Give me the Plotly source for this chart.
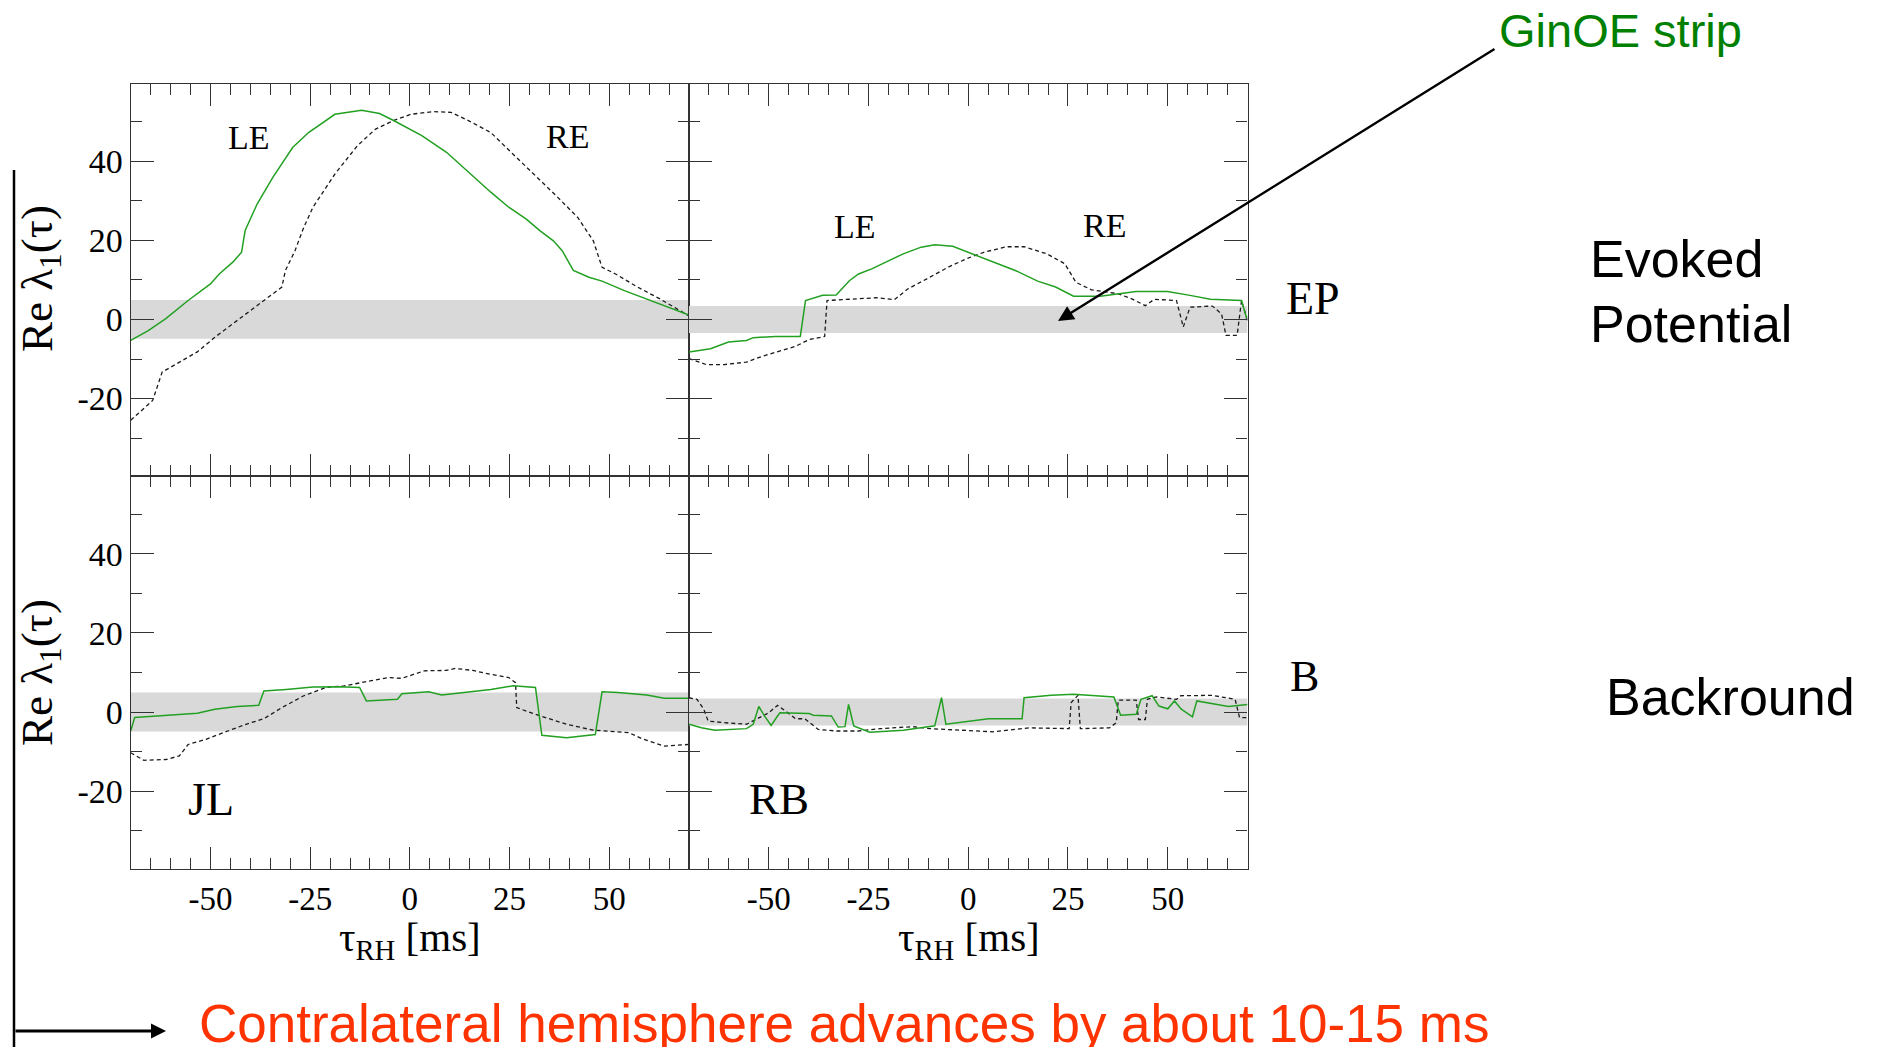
import plotly.graph_objects as go

W, H = 1879, 1047

# ---------------- data (tau_RH in ms, Re lambda_1) ----------------
# Evoked potential, subject JL (top-left)
tl_green_x = [-70, -65.6, -61.2, -55.6, -50, -47.8, -44.4, -42.2, -41.3, -38.3, -34.4, -29.4, -25.4, -18.8,
              -12.1, -7.6, -4.2, 3.0, 9.2, 14.7, 20.3, 24.8, 29.2, 32.6, 36.0, 38.2, 41.0, 44.9, 48.2,
              53.8, 59.4, 65.0, 70]
tl_green_y = [-5.3, -2.8, 0.2, 4.8, 9.0, 11.5, 14.5, 17.0, 22.5, 29.2, 35.9, 43.5, 47.3, 51.9,
              52.9, 52.1, 50.4, 46.5, 42.3, 37.2, 32.2, 28.4, 25.4, 22.5, 19.9, 17.4, 12.4, 10.7, 9.7,
              7.3, 5.2, 3.1, 1.1]
tl_black_x = [-70, -64.5, -62.1, -57.8, -53.3, -48.9, -44.4, -40.0, -35.5, -32.1, -31.2, -28.8, -26.6, -24.3,
              -21.0, -18.8, -13.2, -8.7, -4.2, 0.2, 5.8, 10.3, 14.7, 20.3, 25.9, 31.5, 37.1, 42.1, 46.0,
              48.2, 51.6, 57.1, 62.7, 70]
tl_black_y = [-25.5, -20.5, -13.3, -10.8, -8.2, -4.5, -1.1, 2.3, 5.6, 8.2, 12.4, 17.4, 23.3, 28.4,
              33.4, 36.8, 43.9, 48.1, 50.3, 51.9, 52.6, 52.4, 50.3, 47.3, 41.8, 36.4, 30.9, 25.8, 19.9,
              13.2, 11.5, 8.2, 5.2, 0.9]

# Evoked potential, subject RB (top-right)
tr_green_x = [-70, -64.6, -60.1, -55.6, -53.9, -48.3, -42.1, -40.8, -36.5, -33.1, -29.8, -27.5, -24.2, -20.8,
              -16.3, -11.8, -8.4, -3.9, 0.6, 6.2, 11.8, 17.4, 21.9, 26.4, 33.1, 42.1, 49.9, 55.6, 60.7,
              68.5, 69.7, 70]
tr_green_y = [-8.2, -7.4, -5.7, -5.3, -4.6, -4.3, -4.3, 4.8, 6.1, 6.2, 9.8, 11.5, 12.8, 14.5,
              16.6, 18.3, 18.9, 18.5, 16.8, 14.5, 12.4, 9.7, 8.2, 5.9, 5.9, 7.1, 7.1, 6.1, 5.1,
              4.8, 0.6, 0.8]
tr_black_x = [-70, -65.7, -61.2, -55.6, -52.2, -47.8, -43.3, -39.9, -36.0, -35.4, -29.8, -23.0, -18.5, -15.2,
              -9.6, -5.1, -0.6, 3.9, 9.6, 14.0, 19.7, 24.2, 27.0, 30.9, 37.6, 41.0, 44.4, 46.6, 52.2,
              53.9, 55.6, 61.2, 63.5, 64.6, 67.4, 68.5, 70]
tr_black_y = [-9.9, -11.4, -11.4, -10.8, -9.5, -8.2, -6.8, -5.1, -4.3, 4.8, 5.2, 5.5, 5.0, 7.7,
              10.7, 13.2, 15.3, 17.0, 18.4, 18.4, 16.6, 14.1, 9.4, 7.5, 6.5, 5.2, 3.5, 5.1, 4.8,
              -1.9, 3.1, 3.4, 1.4, -4.0, -4.0, 4.8, -0.3]

# Background, subject JL (bottom-left)
bl_green_x = [-70, -69.0, -63.4, -57.8, -53.3, -48.9, -43.3, -37.9, -36.6, -31.0, -24.3, -17.6, -12.6, -10.9,
              -7.6, -3.1, -2.0, 4.7, 8.0, 14.7, 20.3, 25.9, 31.5, 33.1, 39.3, 46.5, 48.2, 52.1, 59.4,
              63.8, 70]
bl_green_y = [-4.8, -1.4, -1.0, -0.6, -0.3, 0.7, 1.4, 1.7, 5.3, 5.7, 6.3, 6.4, 6.2, 2.8,
              3.0, 3.2, 4.6, 5.1, 4.3, 5.1, 5.7, 6.6, 6.2, -5.9, -6.5, -5.7, 5.1, 4.9, 4.3,
              3.5, 3.5]
bl_black_x = [-70, -66.7, -61.2, -57.8, -55.6, -51.1, -46.7, -41.1, -36.6, -32.1, -26.6, -21.0, -16.5, -10.9,
              -5.4, -2.0, 3.6, 9.2, 11.4, 15.8, 20.3, 24.8, 26.5, 26.8, 31.5, 39.3, 46.0, 54.9, 58.3,
              63.8, 70]
bl_black_y = [-10.3, -12.2, -12.0, -11.1, -8.2, -6.9, -5.2, -3.1, -1.7, 1.1, 4.1, 6.2, 6.6, 7.7,
              8.7, 8.5, 10.4, 10.5, 11.0, 10.5, 9.5, 8.7, 7.4, 1.1, -0.6, -3.1, -4.6, -5.2, -6.8,
              -8.6, -8.2]

# Background, subject RB (bottom-right)
br_green_x = [-70, -66.9, -63.5, -55.6, -53.9, -52.5, -51.1, -49.4, -47.8, -47.2, -39.9, -38.8, -34.3, -32.6,
              -30.9, -30.0, -28.7, -24.7, -16.3, -8.4, -6.7, -5.6, 5.1, 13.5, 14.0, 20.8, 26.4, 36.5,
              38.2, 42.1, 43.3, 46.1, 47.8, 50.0, 51.7, 53.4, 56.2, 57.3, 62.4, 65.2, 70]
br_green_y = [-3.1, -4.0, -4.6, -4.2, -3.1, 1.4, -1.0, -3.4, -1.0, -0.2, -0.4, -0.8, -1.0, -3.8,
              -3.7, 1.9, -3.5, -5.1, -4.6, -3.5, 3.6, -3.1, -1.7, -1.7, 3.6, 4.2, 4.5, 3.8,
              -0.8, -0.6, 3.2, 4.1, 1.5, 0.8, 2.8, 0.7, -1.2, 2.8, 1.9, 1.4, 1.9]
br_black_x = [-70, -68.0, -66.3, -65.2, -61.2, -55.6, -50.0, -47.8, -45.5, -43.3, -41.0, -37.6, -33.1, -27.5,
              -21.9, -14.0, -9.6, -2.8, 6.2, 15.2, 25.3, 25.8, 27.5, 28.1, 35.4, 37.1, 37.6, 42.1,
              42.7, 44.4, 44.9, 47.2, 52.2, 53.3, 61.2, 66.9, 68.0, 70]
br_black_y = [3.6, 3.2, 0.7, -2.3, -2.7, -3.1, -0.2, 1.7, 0.0, -1.7, -1.7, -4.4, -4.8, -4.8,
              -4.2, -3.7, -4.2, -4.6, -5.0, -4.0, -4.2, 2.4, 4.2, -4.2, -4.0, -2.7, 3.0, 3.0,
              -1.9, -1.9, 3.2, 3.8, 3.2, 4.1, 4.2, 3.2, -1.4, -1.4]

# GinOE strip half-widths (left column, right column)
strip_half_left = 4.9
strip_half_right = 3.4

x_range = [-70, 70]
y_range = [-39.6, 59.6]
x_tickvals = [-50, -25, 0, 25, 50]
x_ticktext = ["-50", "-25", "0", "25", "50"]
y_tickvals = [-20, 0, 20, 40]
y_ticktext = ["-20", "0", "20", "40"]

# ---------------- styling ----------------
GREEN = "#22a022"
DASH_COL = "#1a1a1a"
AX_COL = "#333333"
BAND = "#d9d9d9"
SERIF = "Liberation Serif"
SANS = "Liberation Sans"


def px(x):
    return x / W


def py(y):
    return 1 - y / H


fig = go.Figure()

panels = [
    ("x", "y", tl_green_x, tl_green_y, tl_black_x, tl_black_y),
    ("x2", "y2", tr_green_x, tr_green_y, tr_black_x, tr_black_y),
    ("x3", "y3", bl_green_x, bl_green_y, bl_black_x, bl_black_y),
    ("x4", "y4", br_green_x, br_green_y, br_black_x, br_black_y),
]
for xa, ya, gx, gy, bx, by in panels:
    fig.add_trace(go.Scatter(x=bx, y=by, mode="lines", xaxis=xa, yaxis=ya,
                             line=dict(color=DASH_COL, width=1.3, dash="4px,3px"),
                             showlegend=False, hoverinfo="skip"))
    fig.add_trace(go.Scatter(x=gx, y=gy, mode="lines", xaxis=xa, yaxis=ya,
                             line=dict(color=GREEN, width=1.5),
                             showlegend=False, hoverinfo="skip"))

dom_x = [[px(130.7), px(689)], [px(689), px(1247.5)]]
dom_y = [[py(476), py(83.9)], [py(868.8), py(476)]]


def xaxis_cfg(domain, anchor, labels):
    return dict(domain=domain, anchor=anchor, range=x_range,
                tickmode="array", tickvals=x_tickvals, ticktext=x_ticktext,
                showticklabels=labels, ticks="inside", ticklen=22, tickwidth=1.4,
                tickcolor=AX_COL, showline=True, linecolor=AX_COL, linewidth=1.3,
                mirror="ticks", showgrid=False, zeroline=False,
                tickfont=dict(family=SERIF, size=33, color="black"),
                minor=dict(tickmode="linear", tick0=0, dtick=5, ticks="inside",
                           ticklen=11, tickwidth=1.4, tickcolor=AX_COL, showgrid=False))


def yaxis_cfg(domain, anchor, labels):
    return dict(domain=domain, anchor=anchor, range=y_range,
                tickmode="array", tickvals=y_tickvals, ticktext=y_ticktext,
                showticklabels=labels, ticks="inside", ticklen=23, tickwidth=1.4,
                tickcolor=AX_COL, showline=True, linecolor=AX_COL, linewidth=1.3,
                mirror="ticks", showgrid=False, zeroline=False,
                tickfont=dict(family=SERIF, size=34, color="black"),
                minor=dict(tickmode="linear", tick0=0, dtick=10, ticks="inside",
                           ticklen=11, tickwidth=1.4, tickcolor=AX_COL, showgrid=False))


shapes = []
for xa, ya, half in [("x", "y", strip_half_left), ("x2", "y2", strip_half_right),
                     ("x3", "y3", strip_half_left), ("x4", "y4", strip_half_right)]:
    shapes.append(dict(type="rect", xref=xa, yref=ya, x0=x_range[0], x1=x_range[1],
                       y0=-half, y1=half, fillcolor=BAND, line=dict(width=0), layer="below"))
# left vertical bracket line
shapes.append(dict(type="line", xref="paper", yref="paper", x0=px(14), x1=px(14),
                   y0=py(170), y1=0, line=dict(color="black", width=2.5)))

ann = []


def text(t, x, y, size, family=SERIF, color="black", xanchor="center", angle=0):
    ann.append(dict(text=t, x=px(x), y=py(y), xref="paper", yref="paper", showarrow=False,
                    xanchor=xanchor, yanchor="middle", textangle=angle,
                    font=dict(family=family, size=size, color=color)))


# panel labels
text("LE", 249, 138, 34)
text("RE", 567, 136, 34)
text("LE", 855, 227, 34)
text("RE", 1104, 225, 34)
text("EP", 1313, 299, 46)
text("B", 1304, 676, 44)
text("JL", 211, 799, 46)
text("RB", 779, 799, 45)
# axis titles
text("Re λ<sub>1</sub>(τ)", 40, 279, 45, angle=-90)
text("Re λ<sub>1</sub>(τ)", 40, 673, 45, angle=-90)
text("τ<sub>RH</sub> [ms]", 410, 940, 41)
text("τ<sub>RH</sub> [ms]", 969, 940, 41)
# slide annotations
text("GinOE strip", 1497, 30, 47, family=SANS, color="#008000", xanchor="left")
text("Evoked", 1588, 259, 52, family=SANS, xanchor="left")
text("Potential", 1588, 324, 52, family=SANS, xanchor="left")
text("Backround", 1604, 697, 52, family=SANS, xanchor="left")
text("Contralateral hemisphere advances by about 10-15 ms", 197, 1023, 53,
     family=SANS, color="#ff3300", xanchor="left")

# arrows
ann.append(dict(x=px(1058), y=py(321), xref="paper", yref="paper", text="",
                showarrow=True, axref="pixel", ayref="pixel", ax=1496 - 1058, ay=48 - 321,
                arrowhead=2, arrowsize=1.3, arrowwidth=2.4, arrowcolor="black"))
ann.append(dict(x=px(166), y=py(1031), xref="paper", yref="paper", text="",
                showarrow=True, axref="pixel", ayref="pixel", ax=14 - 166, ay=0,
                arrowhead=2, arrowsize=1.0, arrowwidth=3, arrowcolor="black"))

fig.update_layout(
    width=W, height=H, margin=dict(l=0, r=0, t=0, b=0),
    paper_bgcolor="white", plot_bgcolor="white",
    font=dict(family=SERIF, color="black"),
    xaxis=xaxis_cfg(dom_x[0], "y", False),
    yaxis=yaxis_cfg(dom_y[0], "x", True),
    xaxis2=xaxis_cfg(dom_x[1], "y2", False),
    yaxis2=yaxis_cfg(dom_y[0], "x2", False),
    xaxis3=xaxis_cfg(dom_x[0], "y3", True),
    yaxis3=yaxis_cfg(dom_y[1], "x3", True),
    xaxis4=xaxis_cfg(dom_x[1], "y4", True),
    yaxis4=yaxis_cfg(dom_y[1], "x4", False),
    shapes=shapes, annotations=ann,
)

fig.write_html("out.html")
